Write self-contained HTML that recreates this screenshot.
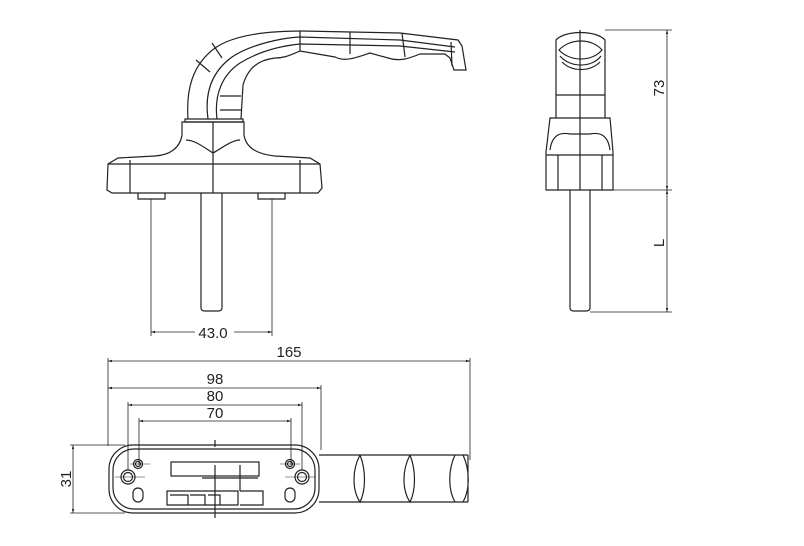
<!DOCTYPE html>
<html><head><style>
html,body{margin:0;padding:0;background:#fff;width:804px;height:546px;overflow:hidden}
text{font-family:"Liberation Sans",sans-serif;font-size:15px;fill:#222}
</style></head><body>
<svg width="804" height="546" viewBox="0 0 804 546" xmlns="http://www.w3.org/2000/svg">
<defs>
<marker id="a" viewBox="0 0 10 10" refX="10" refY="5" markerWidth="7" markerHeight="5" orient="auto-start-reverse"><path d="M0,2 L10,5 L0,8z" fill="#222"/></marker>
</defs>
<g fill="none" stroke="#222" stroke-width="1.2">
<path d="M188,119 C186,90 192,65 215,48 C235,34 270,31 302,31 L400,33 L458,40 L462,46 L466,70 L454,70 L450,58 L445,54 L420,54 C410,58 400,62 388,58 L370,53 C355,58 345,62 335,57 L300,51 C290,55 285,58 275,58 C258,60 248,68 243,85 L241,119"/>
<path d="M208,119 C204,90 214,70 232,57 C250,45 280,38 300,37 L400,40 L455,47"/>
<path d="M217,119 C214,95 222,75 240,63 C258,52 280,46 300,44 L400,46 L455,52"/>
<path d="M300,31 L300,51 M350,32 L350,54 M402,33 L405,57 M451,42 L452,66"/>
<path d="M196,60 L210,72 M212,43 L222,58 M220,110 L241,110 M220,96 L241,96"/>
<path d="M185,119 L243,119 L243,122 L185,122z"/>
<path d="M182,122 L182,135 C180,148 170,155 155,156 L118,158 L108,164 L107,190 L112,193 L318,193 L322,188 L320,164 L310,158 L275,156 C257,154 246,148 244,135 L244,122 Z"/>
<path d="M108,164 L320,164 M130,160 L130,193 M300,160 L300,193"/>
<path d="M186,140 C195,140 205,148 213,153 C222,148 232,140 240,140"/>
<path d="M213,122 L213,193"/>
<path d="M138,193 L138,199 L165,199 L165,193 M258,193 L258,199 L285,199 L285,193"/>
<path d="M201,193 L201,308 Q201,311 205,311 L218,311 Q222,311 222,308 L222,193"/>
<path d="M151,199 L151,336 M272,199 L272,336" stroke-width="0.8"/>
<path d="M195,332 L151,332" marker-end="url(#a)" stroke-width="0.8"/>
<path d="M234,332 L272,332" marker-end="url(#a)" stroke-width="0.8"/>
<path d="M556,118 L556,40 C565,30 596,30 605,40 L605,118"/>
<path d="M559,50 C570,38 592,38 602,50 C592,62 570,62 559,50z"/>
<path d="M560,56 C570,68 592,68 601,56 M562,62 C572,72 590,72 600,62"/>
<path d="M556,95 L605,95 M580,30 L580,190"/>
<path d="M550,118 L610,118 L613,152 L613,190 L546,190 L546,152 Z"/>
<path d="M546,155 L613,155 M550,150 C552,135 560,132 570,134 L590,134 C600,132 608,135 610,150 M558,155 L558,190 M602,155 L602,190"/>
<path d="M570,190 L570,308 Q570,311 574,311 L586,311 Q590,311 590,308 L590,190"/>
<path d="M605,30 L672,30 M613,190 L672,190 M590,312 L672,312" stroke-width="0.8"/>
<path d="M667,110 L667,30" marker-end="url(#a)" stroke-width="0.8"/>
<path d="M667,110 L667,190" marker-end="url(#a)" stroke-width="0.8"/>
<path d="M667,250 L667,190" marker-end="url(#a)" stroke-width="0.8"/>
<path d="M667,250 L667,312" marker-end="url(#a)" stroke-width="0.8"/>
<path d="M108,358 L108,446 M470,358 L470,460 M321,385 L321,450 M128,402 L128,470 M302,402 L302,470 M139,418 L139,465 M291,418 L291,465 M70,445 L125,445 M70,513 L125,513" stroke-width="0.8"/>
<path d="M108,361 L470,361" marker-start="url(#a)" marker-end="url(#a)" stroke-width="0.8"/>
<path d="M108,388 L321,388" marker-start="url(#a)" marker-end="url(#a)" stroke-width="0.8"/>
<path d="M128,405 L302,405" marker-start="url(#a)" marker-end="url(#a)" stroke-width="0.8"/>
<path d="M139,421 L291,421" marker-start="url(#a)" marker-end="url(#a)" stroke-width="0.8"/>
<path d="M73,445 L73,513" marker-start="url(#a)" marker-end="url(#a)" stroke-width="0.8"/>
<rect x="109" y="445" width="210" height="68" rx="24"/>
<rect x="113" y="449" width="202" height="60" rx="21"/>
<path d="M319,455 L468,455 M319,502 L468,502"/>
<path d="M360,455 C352,470 352,490 360,502 C366,490 366,470 360,455 M410,455 C402,470 402,490 410,502 C416,490 416,470 410,455 M455,455 C448,470 448,490 455,502 M463,455 C470,470 470,490 463,502 M468,455 L468,502"/>
<circle cx="138" cy="464" r="4.5"/><circle cx="138" cy="464" r="2.5"/>
<circle cx="290" cy="464" r="4.5"/><circle cx="290" cy="464" r="2.5"/>
<circle cx="128" cy="477" r="7"/><circle cx="128" cy="477" r="4.5"/>
<circle cx="302" cy="477" r="7"/><circle cx="302" cy="477" r="4.5"/>
<rect x="133" y="488" width="10" height="14" rx="5"/>
<rect x="285" y="488" width="10" height="14" rx="5"/>
<rect x="171" y="462" width="88" height="14"/>
<path d="M202,478 L258,478 M215,465 L215,518 M240,465 L240,491 M215,440 L215,447"/>
<path d="M167,491 L238,491 L238,505 L167,505Z M170,495 L188,495 L188,505 M190,495 L205,495 L205,505 M208,495 L220,495 L220,505 M240,491 L263,491 L263,505 L240,505"/>
<path d="M115,477 L145,477 M285,477 L315,477 M130,464 L150,464 M280,464 L300,464" stroke-width="0.6"/>
</g>
<text x="213" y="338" text-anchor="middle">43.0</text>
<text x="289" y="357" text-anchor="middle">165</text>
<text x="215" y="384" text-anchor="middle">98</text>
<text x="215" y="401" text-anchor="middle">80</text>
<text x="215" y="418" text-anchor="middle">70</text>
<text transform="translate(71,479) rotate(-90)" text-anchor="middle">31</text>
<text transform="translate(664,88) rotate(-90)" text-anchor="middle">73</text>
<text transform="translate(664,243) rotate(-90)" text-anchor="middle">L</text>
</svg>
</body></html>
